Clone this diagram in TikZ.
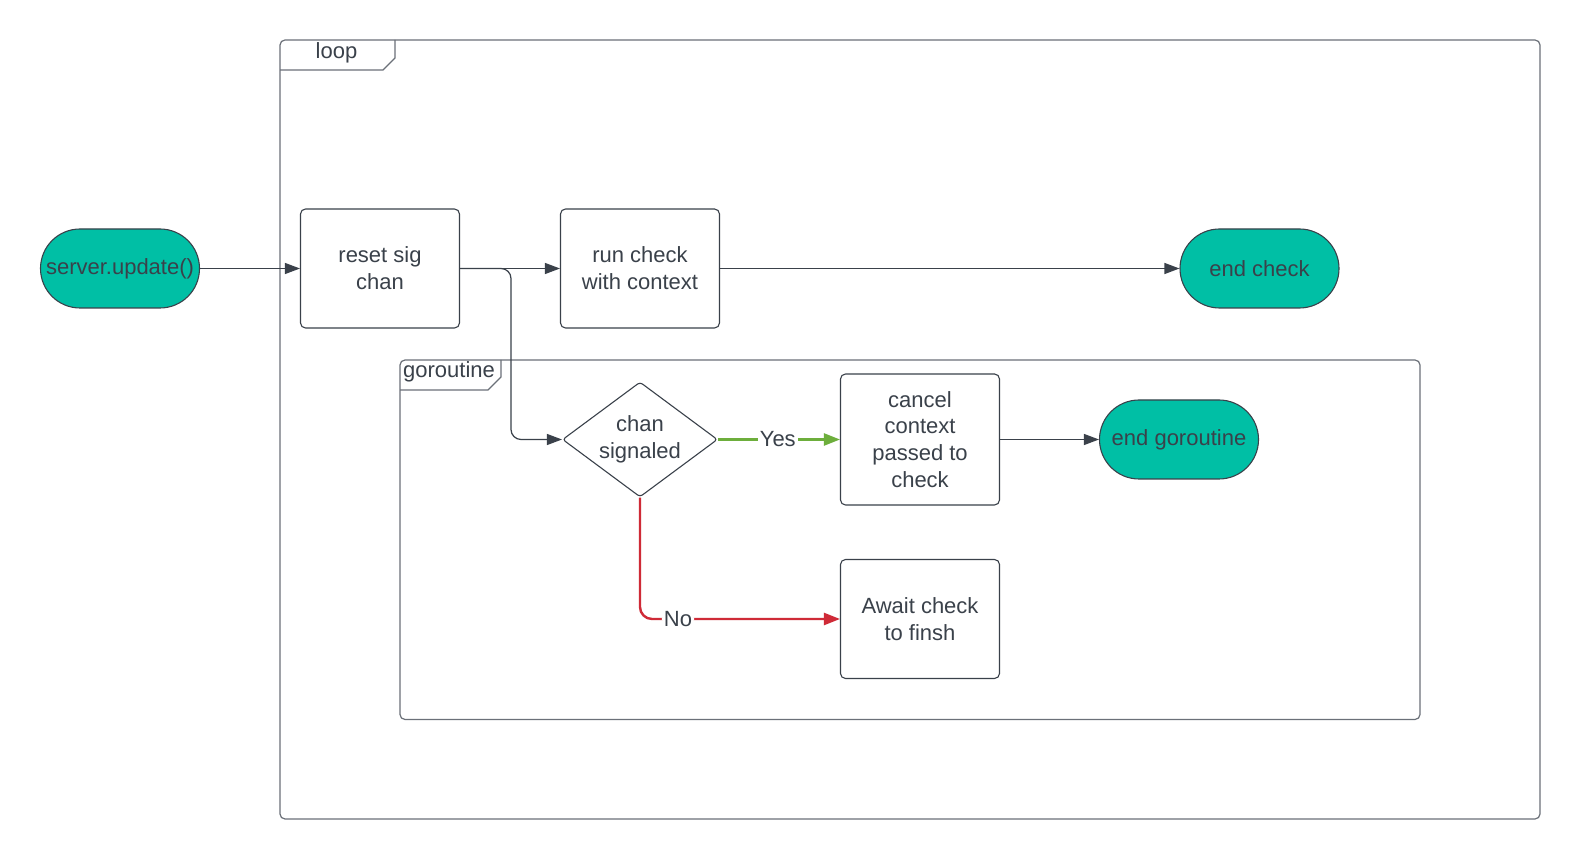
\documentclass[tikz,border=0pt]{standalone}
\usepackage{fontspec}
\setmainfont{Liberation Sans}
\usetikzlibrary{shapes.geometric,arrows.meta}
\definecolor{ink}{HTML}{3A414A}
\definecolor{framec}{HTML}{6B7078}
\definecolor{teal1}{HTML}{00BFA5}
\definecolor{yesc}{HTML}{6DAE3C}
\definecolor{noc}{HTML}{CF2A37}
\tikzset{
  every node/.style={text=ink, font=\fontsize{11}{13.4}\selectfont},
  box/.style={draw=ink, fill=white, rounded corners=2.5pt, minimum width=79.5pt,
    minimum height=59.5pt, align=center, inner sep=0pt, line width=0.55pt},
  term/.style={draw=ink, fill=teal1, rounded corners=19.75pt, minimum width=79.5pt,
    minimum height=39.5pt, inner sep=0pt, line width=0.55pt},
  decide/.style={draw=ink, fill=white, diamond, shape aspect=1.34, minimum width=77.5pt,
    minimum height=57.5pt, inner sep=0pt, align=center, line width=0.55pt, rounded corners=1.5pt},
  frameline/.style={draw=framec, line width=0.6pt},
  conn/.style={draw=ink, line width=0.6pt, -{Triangle[length=7.5pt,width=5.5pt]}},
  yesline/.style={draw=yesc, line width=1.2pt, -{Triangle[length=8pt,width=6pt]}},
  noline/.style={draw=noc, line width=1.2pt, -{Triangle[length=8pt,width=6pt]}},
  lbl/.style={fill=white, inner sep=1pt}
}
\begin{document}
\begin{tikzpicture}[x=0.5pt,y=-0.5pt]
\useasboundingbox[fill=white] (0,0) rectangle (1580,860);

% outer loop frame and its tab
\draw[frameline, rounded corners=2.5pt] (280,40) rectangle (1540,819);
\draw[frameline] (280,70) -- (383,70) -- (395,58) -- (395,40);
\node (looplbl) at (336.5,52.5) {loop};

% goroutine frame and its tab
\draw[frameline, rounded corners=2.5pt] (400,360) rectangle (1420,719.5);
\draw[frameline] (400,390) -- (488,390) -- (501,377) -- (501,360);
\node (golbl) at (449,372) {goroutine};

% main line
\node[term] (upd) at (120,268.5) {server.update()};
\node[box] (reset) at (380,268.5) {reset sig\\chan};
\node[box] (run) at (640,268.5) {run check\\with context};
\node[term] (endcheck) at (1259.5,268.5) {end check};

% goroutine body
\node[decide] (sig) at (640,439.5) {chan\\signaled};
\node[box, minimum height=65.5pt] (cancel) at (920,439.5) {cancel\\context\\passed to\\check};
\node[term] (endgo) at (1179,439.5) {end goroutine};
\node[box] (await) at (920,619) {Await check\\to finsh};

% connectors
\draw[conn] (upd.east) -- (reset.west);
\draw[conn] (reset.east) -- (run.west);
\draw[conn] (run.east) -- (endcheck.west);
\draw[conn, rounded corners=5pt] (reset.east) -- (511,268.5) -- (511,439.5) -- (sig.west);
\draw[yesline] (sig.east) -- node[lbl, pos=0.49] {Yes} (cancel.west);
\draw[noline, rounded corners=6pt] (sig.south) -- (640,619) -- node[lbl, pos=0.19] {No} (await.west);
\draw[conn] (cancel.east) -- (endgo.west);
\end{tikzpicture}
\end{document}
